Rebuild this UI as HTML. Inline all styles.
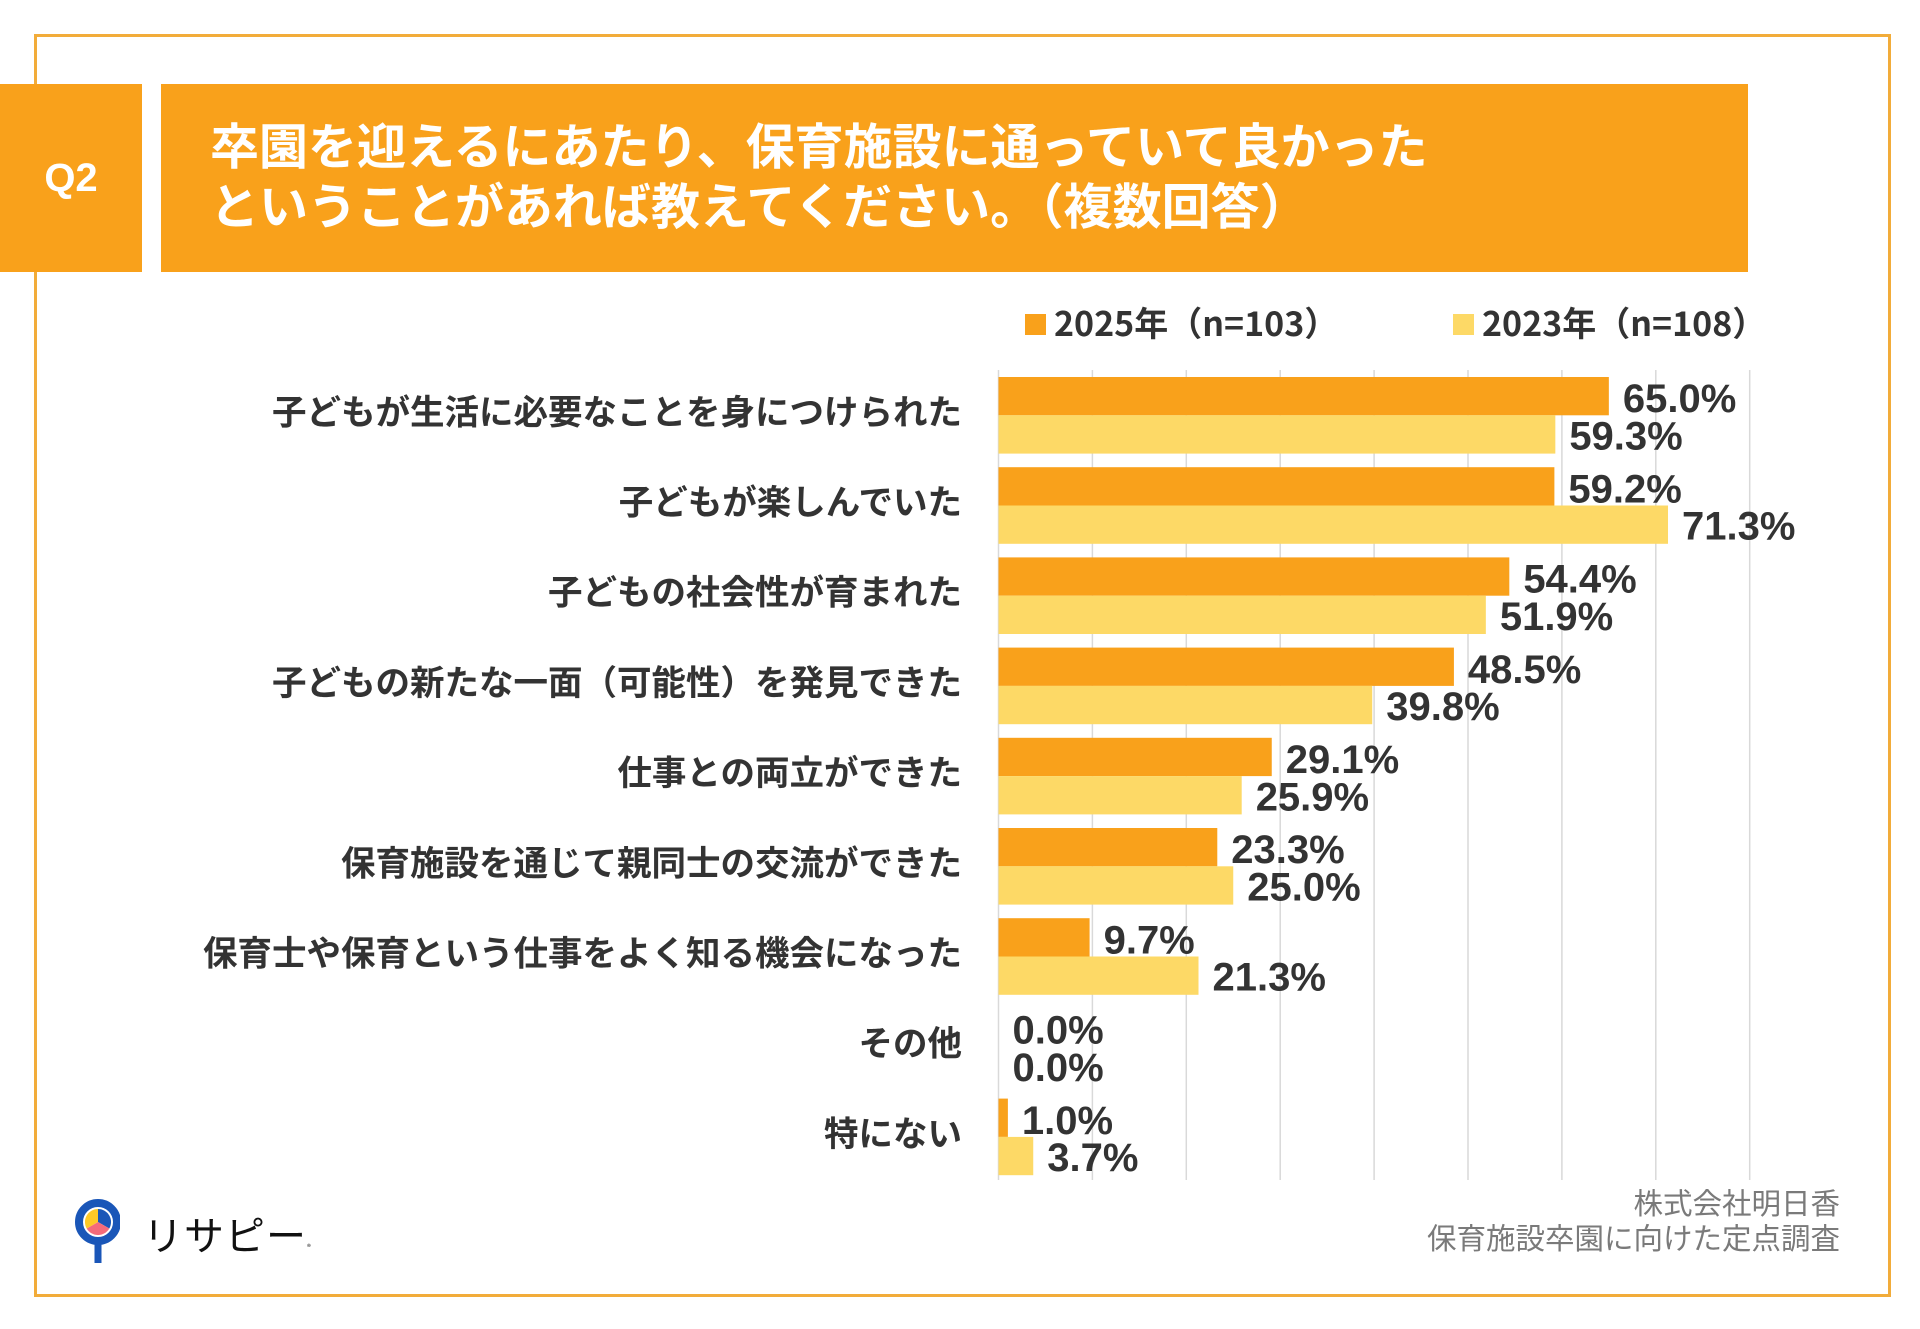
<!DOCTYPE html>
<html><head><meta charset="utf-8">
<style>
html,body{margin:0;padding:0;background:#fff;}
body{width:1920px;height:1329px;position:relative;overflow:hidden;font-family:"Liberation Sans","Noto Sans CJK JP",sans-serif;}
.abs{position:absolute;}
</style></head>
<body>
<div class="abs" style="left:34px;top:34px;width:1851px;height:1257px;border:3px solid #f2ac3a;"></div>
<div class="abs" style="left:0;top:84px;width:142px;height:188px;background:#f9a11b;"></div>
<div class="abs" style="left:0;top:84px;width:142px;height:188px;line-height:188px;text-align:center;color:#fff;font-weight:bold;font-size:40px;">Q2</div>
<div class="abs" style="left:161px;top:84px;width:1587px;height:188px;background:#f9a11b;"></div>
<div class="abs" style="left:210px;top:114px;color:#fff;font-weight:bold;font-size:49px;line-height:60px;font-family:'Noto Sans CJK JP','Liberation Sans',sans-serif;white-space:nowrap;">卒園を迎えるにあたり、保育施設に通っていて良かった<br>ということがあれば教えてください。（複数回答）</div>

<div class="abs" style="left:1025px;top:314px;width:21px;height:21px;background:#f9a11b;"></div>
<div class="abs" style="left:1054px;top:300px;font-size:34px;font-weight:bold;color:#333;line-height:44px;font-family:'Noto Sans CJK JP',sans-serif;white-space:nowrap;">2025年（n=103）</div>
<div class="abs" style="left:1453px;top:314px;width:21px;height:21px;background:#fdd966;"></div>
<div class="abs" style="left:1482px;top:300px;font-size:34px;font-weight:bold;color:#333;line-height:44px;font-family:'Noto Sans CJK JP',sans-serif;white-space:nowrap;">2023年（n=108）</div>

<svg class="abs" style="left:0;top:0" width="1920" height="1329" id="chart"></svg>

<div class="abs" style="right:80px;top:1185px;text-align:right;font-size:29.5px;line-height:35px;color:#7a7a7a;font-family:'Noto Sans CJK JP',sans-serif;white-space:nowrap;">株式会社明日香<br>保育施設卒園に向けた定点調査</div>

<svg class="abs" style="left:60px;top:1187px" width="60" height="85">
<rect x="34.5" y="50" width="7" height="26" fill="#1a56b8"/>
<circle cx="38" cy="35" r="19" fill="#fff" stroke="#1a56b8" stroke-width="8"/>
<path d="M38 35 L38 22 A13 13 0 0 1 49.3 41.5 Z" fill="#1a56b8"/>
<path d="M38 35 L49.3 41.5 A13 13 0 0 1 26.7 41.5 Z" fill="#f56b7a"/>
<path d="M38 35 L26.7 41.5 A13 13 0 0 1 38 22 Z" fill="#ffc926"/>
</svg>
<div class="abs" style="left:143px;top:1203px;font-size:40px;letter-spacing:1px;line-height:60px;color:#111;font-family:'Noto Sans CJK JP',sans-serif;white-space:nowrap;">リサピー<span style="font-size:8px;">®</span></div>

<script>
const categories=["子どもが生活に必要なことを身につけられた","子どもが楽しんでいた","子どもの社会性が育まれた","子どもの新たな一面（可能性）を発見できた","仕事との両立ができた","保育施設を通じて親同士の交流ができた","保育士や保育という仕事をよく知る機会になった","その他","特にない"];
const values2025=[65.0,59.2,54.4,48.5,29.1,23.3,9.7,0.0,1.0];
const values2023=[59.3,71.3,51.9,39.8,25.9,25.0,21.3,0.0,3.7];
const gridTicks=[0,10,20,30,40,50,60,70,80];

const svg=document.getElementById('chart');
const NS='http://www.w3.org/2000/svg';
const x0=998.5, pxPer=9.39, top0=377, band=90.2, barH=38.3;
const xs=v=>x0+v*pxPer;
function el(t,a){const e=document.createElementNS(NS,t);for(const k in a)e.setAttribute(k,a[k]);svg.appendChild(e);return e;}
gridTicks.forEach(t=>{
  const g=el('line',{x1:xs(t),x2:xs(t),y1:370,y2:1180,stroke:'#d9d9d9','stroke-width':1.5});
  
  
});
function lbl(x,y,txt,anchor,size){
  const t=el('text',{x:x,y:y,'text-anchor':anchor,'dominant-baseline':'central','font-size':size,'font-weight':'bold',fill:'#333','font-family':"'Liberation Sans','Noto Sans CJK JP',sans-serif"});
  t.textContent=txt;return t;
}
categories.forEach((c,i)=>{
  const y=top0+i*band;
  const cl=lbl(962,y+barH-6,c,'end',34.5);
  cl.setAttribute('font-family',"'Noto Sans CJK JP',sans-serif");
  
  
  const b1=el('rect',{x:x0,y:y,width:values2025[i]*pxPer,height:barH,fill:'#f9a11b'});
  
  
  const b2=el('rect',{x:x0,y:y+barH,width:values2023[i]*pxPer,height:barH,fill:'#fdd966'});
  
  
  const l1=lbl(xs(values2025[i])+14,y+barH/2+3,values2025[i].toFixed(1)+'%','start',40);
  
  
  const l2=lbl(xs(values2023[i])+14,y+barH*1.5+2,values2023[i].toFixed(1)+'%','start',40);
  
  
});
</script>
</body></html>
